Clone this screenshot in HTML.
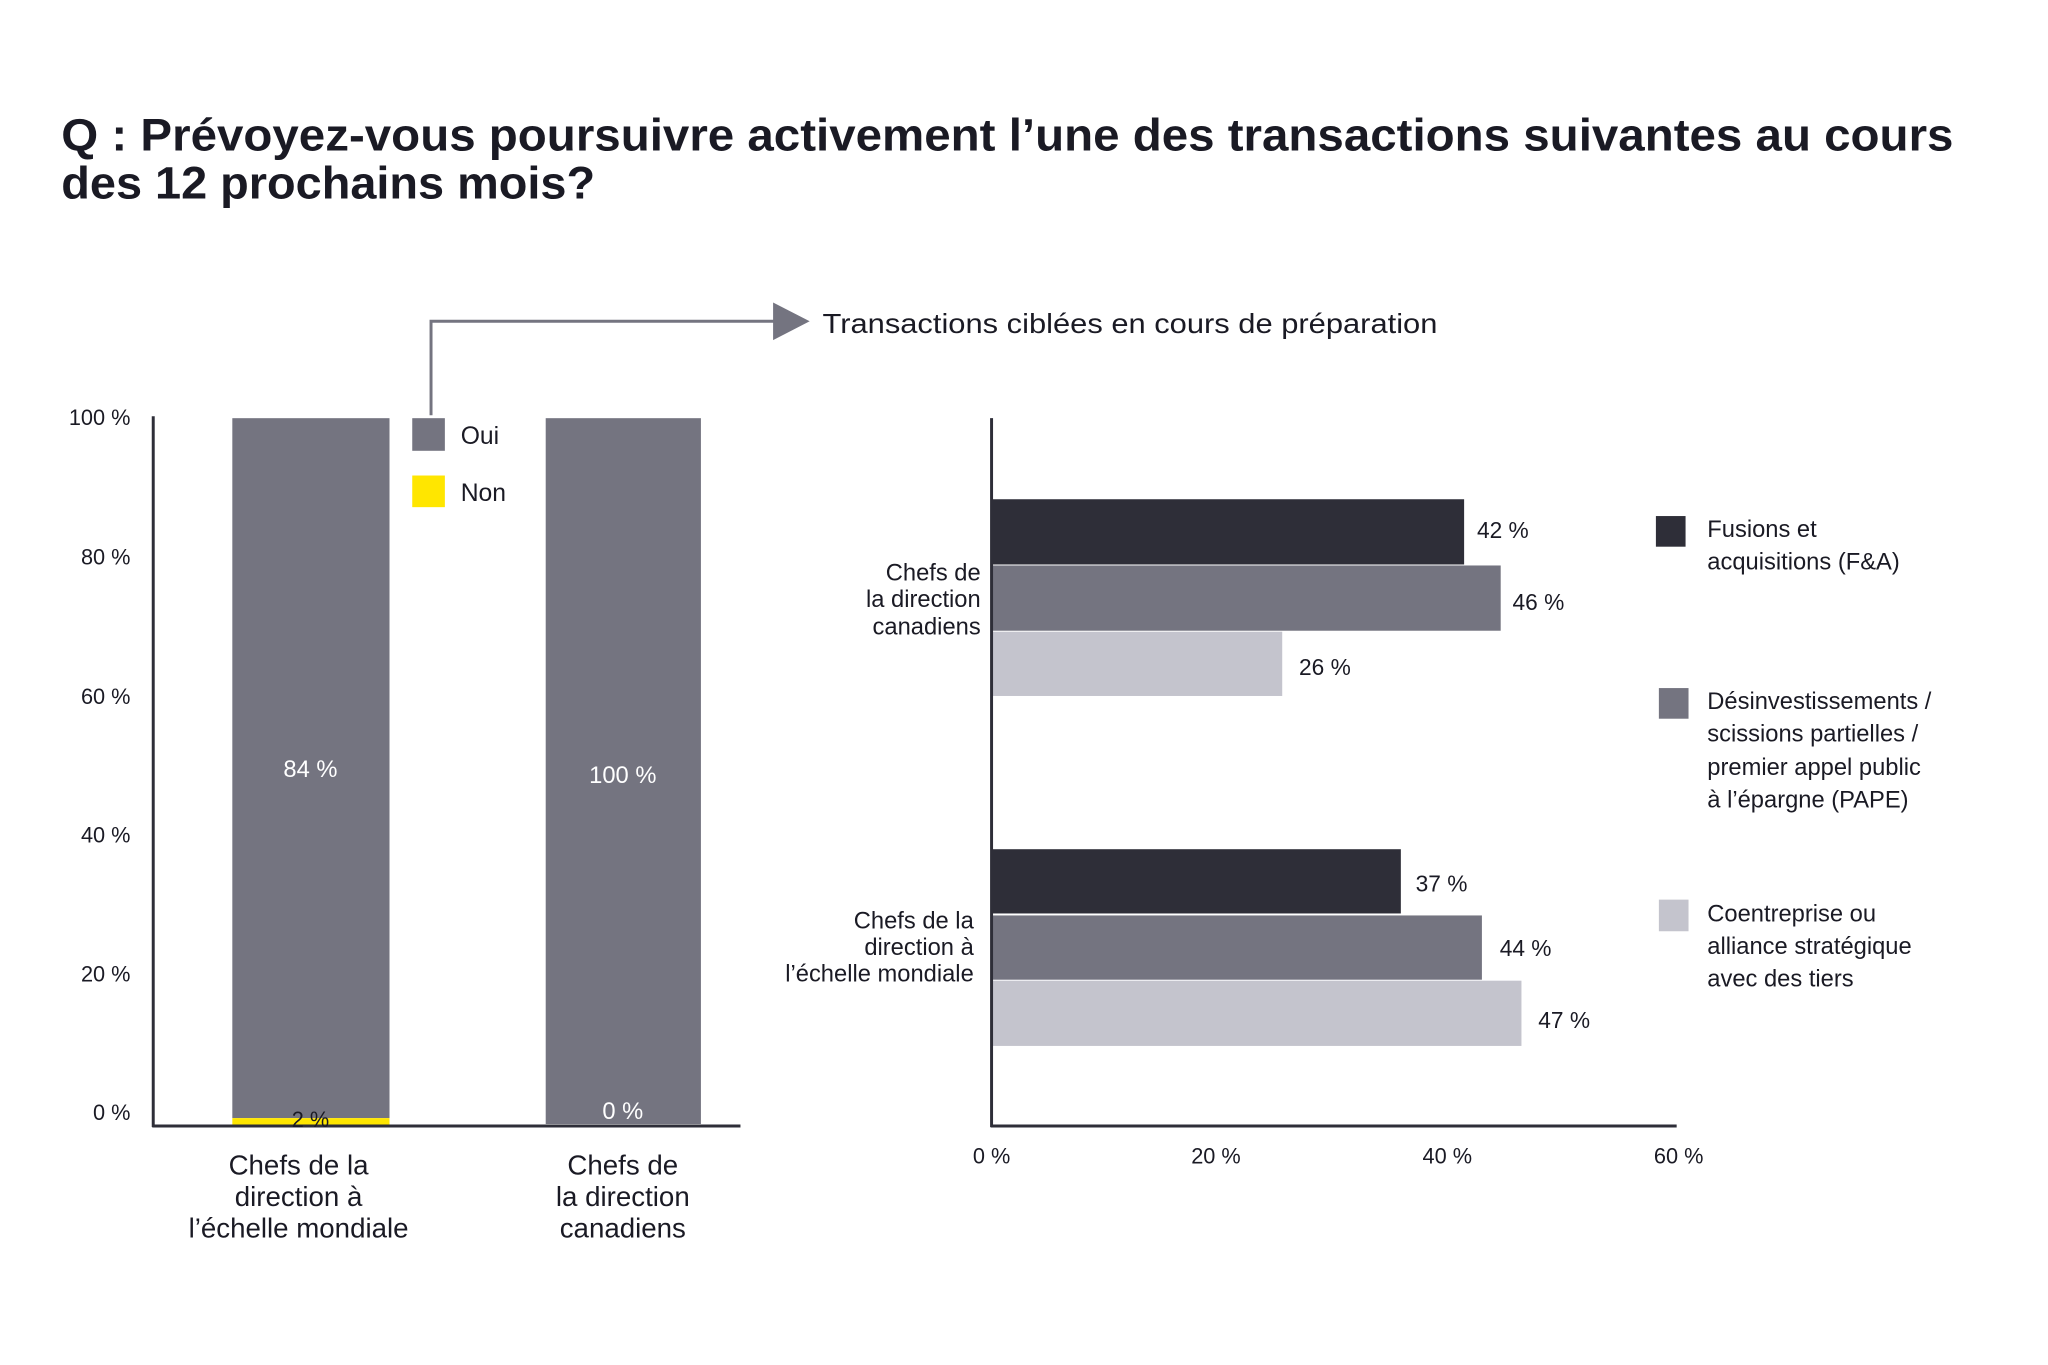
<!DOCTYPE html>
<html><head><meta charset="utf-8"><style>
html,body{margin:0;padding:0;background:#fff;}
svg{display:block;}
text{font-family:"Liberation Sans",sans-serif;fill:#1a1a24;}
</style></head><body>
<svg width="2048" height="1365" viewBox="0 0 2048 1365" xmlns="http://www.w3.org/2000/svg">
<rect width="2048" height="1365" fill="#fff"/>
<g transform="scale(0.9886)">
<text x="62" y="152" font-size="46" font-weight="bold" textLength="1914" lengthAdjust="spacingAndGlyphs">Q : Prévoyez-vous poursuivre activement l’une des transactions suivantes au cours</text>
<text x="62" y="201" font-size="46" font-weight="bold" textLength="540" lengthAdjust="spacingAndGlyphs">des 12 prochains mois?</text>

<polyline points="436,420 436,325 785,325" fill="none" stroke="#747480" stroke-width="3"/>
<polygon points="782,306 819,325 782,344" fill="#747480"/>
<text x="832" y="337" font-size="28" textLength="622" lengthAdjust="spacingAndGlyphs">Transactions ciblées en cours de préparation</text>

<g font-size="22" text-anchor="end">
<text x="132" y="430">100 %</text>
<text x="132" y="571">80 %</text>
<text x="132" y="712">60 %</text>
<text x="132" y="852">40 %</text>
<text x="132" y="993">20 %</text>
<text x="132" y="1133">0 %</text>
</g>
<rect x="235" y="423" width="159" height="708" fill="#747480"/>
<rect x="235" y="1131" width="159" height="8" fill="#ffe600"/>
<rect x="552" y="423" width="157" height="714" fill="#747480"/>
<line x1="155" y1="421" x2="155" y2="1140" stroke="#2e2e38" stroke-width="3"/>
<line x1="154" y1="1139" x2="749" y2="1139" stroke="#2e2e38" stroke-width="3"/>
<rect x="417" y="423" width="33" height="33" fill="#747480"/>
<rect x="417" y="481" width="33" height="32" fill="#ffe600"/>
<text x="466" y="449" font-size="25">Oui</text>
<text x="466" y="507" font-size="25">Non</text>
<g font-size="24" text-anchor="middle">
<text x="314" y="786" style="fill:#fff">84 %</text>
<text x="630" y="792" style="fill:#fff">100 %</text>
<text x="630" y="1132" style="fill:#fff">0 %</text>
<text x="314" y="1140" font-size="22">2 %</text>
</g>
<g font-size="28" text-anchor="middle">
<text x="302" y="1188">Chefs de la</text>
<text x="302" y="1220">direction à</text>
<text x="302" y="1252">l’échelle mondiale</text>
<text x="630" y="1188">Chefs de</text>
<text x="630" y="1220">la direction</text>
<text x="630" y="1252">canadiens</text>
</g>

<rect x="1003" y="505" width="478" height="66" fill="#2e2e38"/>
<rect x="1003" y="572" width="515" height="66" fill="#747480"/>
<rect x="1003" y="639" width="294" height="65" fill="#c4c4cd"/>
<rect x="1003" y="859" width="414" height="65" fill="#2e2e38"/>
<rect x="1003" y="926" width="496" height="65" fill="#747480"/>
<rect x="1003" y="992" width="536" height="66" fill="#c4c4cd"/>
<line x1="1003" y1="423" x2="1003" y2="1140" stroke="#2e2e38" stroke-width="3"/>
<line x1="1002" y1="1139" x2="1696" y2="1139" stroke="#2e2e38" stroke-width="3"/>
<g font-size="23">
<text x="1494" y="544">42 %</text>
<text x="1530" y="617">46 %</text>
<text x="1314" y="683">26 %</text>
<text x="1432" y="902">37 %</text>
<text x="1517" y="967">44 %</text>
<text x="1556" y="1040">47 %</text>
</g>
<g font-size="22" text-anchor="middle">
<text x="1003" y="1177">0 %</text>
<text x="1230" y="1177">20 %</text>
<text x="1464" y="1177">40 %</text>
<text x="1698" y="1177">60 %</text>
</g>
<g font-size="24" text-anchor="end">
<text x="992" y="587">Chefs de</text>
<text x="992" y="614">la direction</text>
<text x="992" y="642">canadiens</text>
<text x="985" y="939">Chefs de la</text>
<text x="985" y="966">direction à</text>
<text x="985" y="993">l’échelle mondiale</text>
</g>
<rect x="1675" y="522" width="30" height="31" fill="#2e2e38"/>
<rect x="1678" y="696" width="30" height="31" fill="#747480"/>
<rect x="1678" y="910" width="30" height="32" fill="#c4c4cd"/>
<g font-size="24">
<text x="1727" y="543">Fusions et</text>
<text x="1727" y="576">acquisitions (F&amp;A)</text>
<text x="1727" y="717">Désinvestissements /</text>
<text x="1727" y="750">scissions partielles /</text>
<text x="1727" y="784">premier appel public</text>
<text x="1727" y="817">à l’épargne (PAPE)</text>
<text x="1727" y="932">Coentreprise ou</text>
<text x="1727" y="965">alliance stratégique</text>
<text x="1727" y="998">avec des tiers</text>
</g>
</g>
</svg>
</body></html>
